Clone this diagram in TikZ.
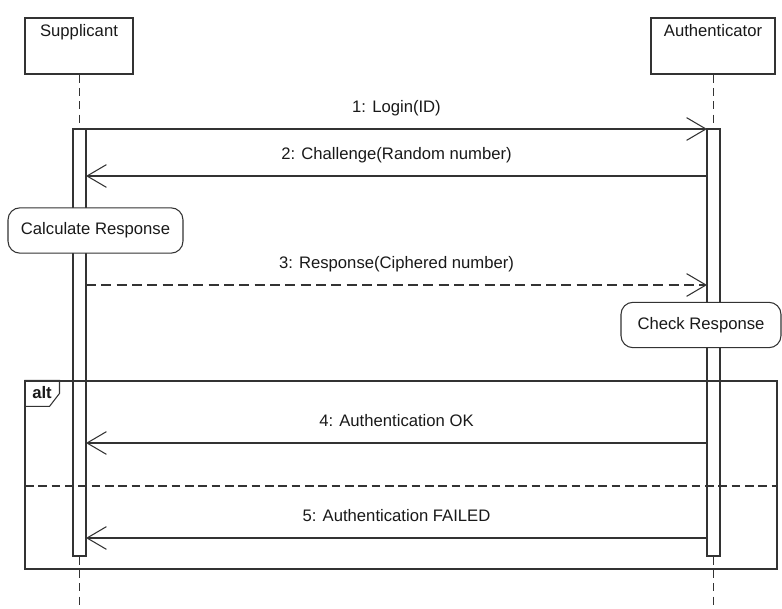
\documentclass[tikz,border=0pt]{standalone}
\usepackage{fontspec}
\setmainfont{Liberation Sans}
\usetikzlibrary{arrows.meta}
\begin{document}
\begin{tikzpicture}[x=0.75pt,y=-0.75pt,
  every node/.style={font=\fontsize{12.5}{15}\selectfont, text=black!90},
  line/.style={draw=black!80, line width=0.8pt},
  head/.style={line, rectangle, inner sep=0pt, minimum height=42pt},
  bar/.style={line, rectangle, inner sep=0pt, minimum width=9.75pt, minimum height=320.25pt},
  life/.style={draw=black!80, line width=0.85pt, dash pattern=on 6pt off 4pt},
  msg/.style={line, -{Straight Barb[length=14.5pt,width=17pt,line width=0.8pt]}},
  reply/.style={msg, dash pattern=on 7.5pt off 4pt},
  lbl/.style={anchor=base, yshift=12.5pt},
  note/.style={line, fill=white, rounded corners=9pt, inner sep=0pt, minimum height=34pt},
]
\useasboundingbox (0,0) rectangle (782,609);

% lifeline heads
\node[head, minimum width=81pt] (sup) at (79,46) {};
\node[anchor=base] (supT) at (79,37) {Supplicant};
\node[head, minimum width=93pt] (aut) at (713,46) {};
\node[anchor=base] (autT) at (713,37) {Authenticator};

% activation bars
\node[bar] (actS) at (79.5,342.5) {};
\node[bar] (actA) at (713.5,342.5) {};

% lifelines
\coordinate (endS) at (79.5,609);
\coordinate (endA) at (713.5,609);
\draw[life] (sup.south -| actS.north) -- (actS.north);
\draw[life] (actS.south) -- (endS);
\draw[life] (aut.south -| actA.north) -- (actA.north);
\draw[life] (actA.south) -- (endA);

% message end points on the activation bars
\coordinate (s1) at (86,129);   \coordinate (a1) at (707,129);
\coordinate (s2) at (86,176);   \coordinate (a2) at (707,176);
\coordinate (s3) at (86,285);   \coordinate (a3) at (707,285);
\coordinate (s4) at (86,443);   \coordinate (a4) at (707,443);
\coordinate (s5) at (86,538);   \coordinate (a5) at (707,538);

% combined fragment
\node[line, rectangle, inner sep=0pt, minimum width=564pt, minimum height=141pt] (alt) at (401,475) {};
\draw[line] (alt.north west) -- ++(35,0) -- ++(0,13) -- ++(-10,13) -- ++(-25,0);
\node[anchor=base, font=\fontsize{12.5}{15}\selectfont\bfseries] (altT) at (42,399) {alt};
\coordinate (sepL) at (25,486);
\coordinate (sepR) at (777,486);
\draw[life, dash pattern=on 6.5pt off 3.5pt] (sepL) -- (sepR);

% messages
\draw[msg] (s1) -- node[lbl] {1: Login(ID)} (a1);
\draw[msg] (a2) -- node[lbl] {2: Challenge(Random number)} (s2);
\draw[reply] (s3) -- node[lbl] {3: Response(Ciphered number)} (a3);
\draw[msg] (a4) -- node[lbl] {4: Authentication OK} (s4);
\draw[msg] (a5) -- node[lbl] {5: Authentication FAILED} (s5);

% local actions
\node[note, minimum width=131.25pt] (calc) at (95.5,230.5) {Calculate Response};
\node[note, minimum width=120pt] (check) at (701,325) {Check Response};
\end{tikzpicture}
\end{document}
